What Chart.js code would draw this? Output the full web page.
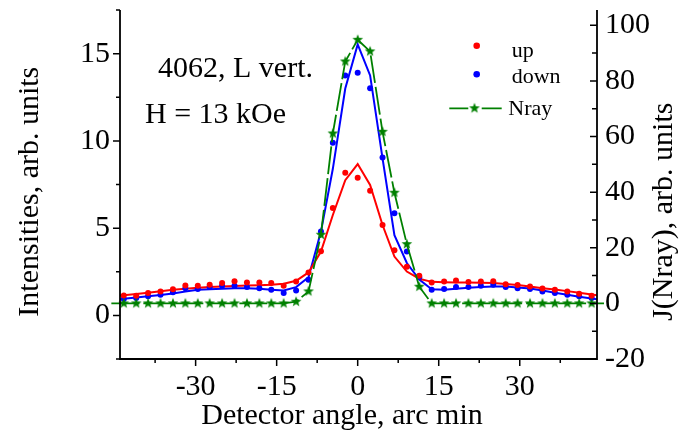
<!DOCTYPE html>
<html><head><meta charset="utf-8">
<script src="https://cdn.jsdelivr.net/npm/chart.js@4.4.1/dist/chart.umd.min.js"></script>
<style>html,body{margin:0;padding:0;background:#fff;}#wrap{width:681px;height:439px;position:relative;}</style>
</head><body><div id="wrap"><canvas id="c" width="681" height="439"></canvas></div>
<script>
// Detector angles (arc min)
const angles = [-45.6,-43.3,-41.0,-38.8,-36.5,-34.2,-31.9,-29.6,-27.4,-25.1,-22.8,-20.5,-18.2,-16.0,-13.7,-11.4,-9.1,-6.8,-4.6,-2.3,0,2.3,4.6,6.8,9.1,11.4,13.7,16.0,18.2,20.5,22.8,25.1,27.4,29.6,31.9,34.2,36.5,38.8,41.0,43.3,45.6];
// "up" measured intensities (left axis)
const upData = [null,1.14,1.12,1.28,1.37,1.50,1.71,1.70,1.75,1.85,1.96,1.89,1.89,1.85,1.70,1.94,2.46,3.68,6.16,8.18,7.89,7.14,5.18,3.73,2.79,2.27,1.89,1.94,2.00,1.91,1.94,1.96,1.79,1.74,1.66,1.54,1.47,1.37,1.24,1.13,null];
// "down" measured intensities (left axis)
const downData = [null,0.94,0.99,1.09,1.18,1.32,1.56,1.51,1.62,1.70,1.70,1.62,1.56,1.47,1.28,1.43,2.04,4.80,9.89,13.75,13.90,13.01,9.05,5.85,3.66,2.19,1.47,1.51,1.62,1.62,1.70,1.75,1.62,1.56,1.51,1.37,1.28,1.18,1.09,1.00,null];
// fitted curves (left axis)
const upFit = [1.10,1.16,1.23,1.30,1.38,1.47,1.53,1.58,1.62,1.66,1.69,1.71,1.73,1.75,1.81,1.98,2.46,3.66,5.75,7.75,8.67,7.47,5.18,3.37,2.51,2.10,1.92,1.90,1.89,1.89,1.87,1.85,1.80,1.74,1.66,1.56,1.48,1.39,1.30,1.20,1.10];
const downFit = [0.88,0.95,1.02,1.09,1.17,1.26,1.37,1.47,1.50,1.53,1.55,1.55,1.52,1.47,1.43,1.62,2.19,4.80,8.40,13.00,15.53,13.75,9.00,4.60,3.00,2.05,1.50,1.47,1.52,1.58,1.62,1.65,1.65,1.60,1.54,1.42,1.30,1.18,1.07,0.97,0.87];
// Nray (right axis)
const nray = [0,0,0,0,0,0,0,0,0,0,0,0,0,0,0,0.6,4.3,24.7,61.1,87.0,94.8,90.6,61.7,39.8,21.3,6.0,0,0,0,0,0,0,0,0,0,0,0,0,0,0,0];

const xTicks = [-30,-15,0,15,30];
const xMinorTicks = [-37.5,-22.5,-7.5,7.5,22.5,37.5];
const yTicks = [0,5,10,15];
const yMinorTicks = [-2.5,2.5,7.5,12.5,17.5];
const y2Ticks = [-20,0,20,40,60,80,100];
const y2MinorTicks = [-10,10,30,50,70,90];

const labels = {x:'Detector angle, arc min', y:'Intensities, arb. units', y2:'J(Nray), arb. units'};
const notes = ['4062, L vert.', 'H = 13 kOe'];
const seriesNames = ['up','down','Nray'];

const RED='#ff0000', BLUE='#0000ff', GREEN='#008000';
const FONT = "'Liberation Serif','Times New Roman',serif";

function makeStar(r, color){
  const s = Math.ceil(r*2+2);
  const c = document.createElement('canvas'); c.width=s; c.height=s;
  const g = c.getContext('2d'); g.fillStyle=color; g.beginPath();
  for(let i=0;i<10;i++){const a=-Math.PI/2+i*Math.PI/5; const rr=i%2?r*0.42:r; g.lineTo(s/2+rr*Math.cos(a), s/2+rr*Math.sin(a));}
  g.closePath(); g.fill(); return c;
}
const star = makeStar(5.6, GREEN);

const pts = arr => angles.map((x,i)=>({x:x, y:arr[i]})).filter(p=>p.y!==null);

const decor = {
  id:'decor',
  afterDraw(chart){
    const ctx = chart.ctx, ca = chart.chartArea;
    const sx = chart.scales.x, sy = chart.scales.y, sy2 = chart.scales.y2;
    ctx.save();
    ctx.strokeStyle='#000'; ctx.lineWidth=1.8; ctx.lineCap='butt';
    ctx.beginPath();
    ctx.moveTo(ca.left, ca.top); ctx.lineTo(ca.left, ca.bottom); ctx.lineTo(ca.right, ca.bottom); ctx.lineTo(ca.right, ca.top);
    ctx.stroke();
    ctx.lineWidth=1.5;
    ctx.beginPath();
    const tk = (list, len, fn) => list.forEach(v => fn(v, len));
    tk(xTicks, 7, (v,l)=>{const p=sx.getPixelForValue(v); ctx.moveTo(p,ca.bottom); ctx.lineTo(p,ca.bottom+l);});
    tk(xMinorTicks, 4, (v,l)=>{const p=sx.getPixelForValue(v); ctx.moveTo(p,ca.bottom); ctx.lineTo(p,ca.bottom+l);});
    tk(yTicks, 7, (v,l)=>{const p=sy.getPixelForValue(v); ctx.moveTo(ca.left-l,p); ctx.lineTo(ca.left,p);});
    tk(yMinorTicks, 4, (v,l)=>{const p=sy.getPixelForValue(v); ctx.moveTo(ca.left-l,p); ctx.lineTo(ca.left,p);});
    tk(y2Ticks, 7, (v,l)=>{const p=sy2.getPixelForValue(v); ctx.moveTo(ca.right-l,p); ctx.lineTo(ca.right,p);});
    tk(y2MinorTicks, 5, (v,l)=>{const p=sy2.getPixelForValue(v); ctx.moveTo(ca.right-l,p); ctx.lineTo(ca.right,p);});
    ctx.stroke();

    ctx.fillStyle='#000';
    ctx.font = '30px '+FONT; ctx.textBaseline='alphabetic';
    ctx.textAlign='center';
    ctx.fillText(labels.x, 342, 424);
    ctx.save(); ctx.translate(38.3, 191.7); ctx.rotate(-Math.PI/2); ctx.fillText(labels.y, 0, 0); ctx.restore();
    ctx.save(); ctx.translate(671.5, 211.7); ctx.rotate(-Math.PI/2); ctx.fillText(labels.y2, 0, 0); ctx.restore();
    ctx.textAlign='left';
    ctx.fillText(notes[0], 158, 76.7);
    ctx.fillText(notes[1], 145, 123.3);

    // legend
    ctx.font = '22px '+FONT;
    ctx.fillStyle=RED; ctx.beginPath(); ctx.arc(476.7,45.7,3.3,0,Math.PI*2); ctx.fill();
    ctx.fillStyle=BLUE; ctx.beginPath(); ctx.arc(476.7,74.3,3.3,0,Math.PI*2); ctx.fill();
    ctx.strokeStyle=GREEN; ctx.lineWidth=1.8; ctx.beginPath();
    ctx.moveTo(449.3,108.3); ctx.lineTo(468.3,108.3); ctx.moveTo(481.7,108.3); ctx.lineTo(501.7,108.3); ctx.stroke();
    ctx.drawImage(star, 474.5-star.width/2, 108.3-star.height/2);
    ctx.fillStyle='#000';
    ctx.fillText(seriesNames[0], 511.7, 56.7);
    ctx.fillText(seriesNames[1], 511.7, 83.3);
    ctx.fillText(seriesNames[2], 508.3, 115);
    ctx.restore();
  }
};

const tickFont = {family:FONT, size:30};
const fitV = w => s => { s.width = w; s.paddingTop = 0; s.paddingBottom = 0; };
new Chart(document.getElementById('c'), {
  type:'scatter',
  data:{datasets:[
    {label:'Nray', data:pts(nray), yAxisID:'y2', showLine:true, borderColor:GREEN, borderWidth:1.8, borderDash:[28,4], pointStyle:star, pointRadius:5, backgroundColor:GREEN, clip:false},
    {label:'up', data:pts(upData), yAxisID:'y', showLine:false, pointRadius:3, pointBackgroundColor:RED, pointBorderWidth:0, borderColor:RED},
    {label:'down', data:pts(downData), yAxisID:'y', showLine:false, pointRadius:3, pointBackgroundColor:BLUE, pointBorderWidth:0, borderColor:BLUE},
    {label:'up fit', data:pts(upFit), yAxisID:'y', showLine:true, pointRadius:0, borderColor:RED, borderWidth:2, clip:0},
    {label:'down fit', data:pts(downFit), yAxisID:'y', showLine:true, pointRadius:0, borderColor:BLUE, borderWidth:2, clip:0}
  ]},
  options:{
    responsive:false, animation:false, devicePixelRatio:1,
    layout:{padding:{top:10,left:0,right:0,bottom:0}},
    plugins:{legend:{display:false}, tooltip:{enabled:false}},
    scales:{
      x:{type:'linear', min:-44, max:44.3, grid:{display:false, drawTicks:false, tickLength:0}, border:{display:false},
         ticks:{font:tickFont, color:'#000', padding:10, maxRotation:0, callback:v=>String(v)},
         afterBuildTicks:s=>{s.ticks = xTicks.map(v=>({value:v}));}, afterFit:s=>{s.height=80; s.paddingLeft=0; s.paddingRight=0;}},
      y:{type:'linear', position:'left', min:-2.5, max:17.5, grid:{display:false, drawTicks:false, tickLength:0}, border:{display:false},
         ticks:{font:tickFont, color:'#000', padding:10, callback:v=>String(v)},
         afterBuildTicks:s=>{s.ticks = yTicks.map(v=>({value:v}));}, afterFit:fitV(120)},
      y2:{type:'linear', position:'right', min:-20, max:105.5, grid:{display:false, drawTicks:false, tickLength:0}, border:{display:false},
         ticks:{font:tickFont, color:'#000', padding:8, callback:v=>String(v)},
         afterBuildTicks:s=>{s.ticks = y2Ticks.map(v=>({value:v}));}, afterFit:fitV(84)}
    }
  },
  plugins:[decor]
});
</script></body></html>
